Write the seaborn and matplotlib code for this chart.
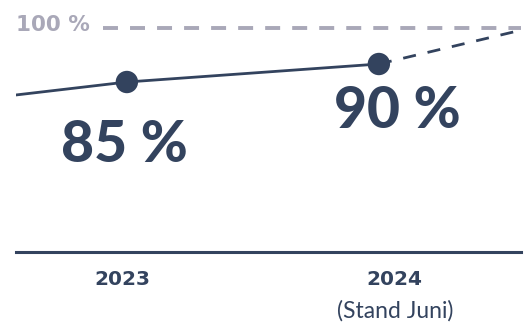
import matplotlib
matplotlib.use("Agg")
import matplotlib.pyplot as plt
import seaborn as sns

# data
years = [2023, 2024]
values = [85, 90]
year_labels = ["2023", "2024"]
year_notes = ["", "(Stand Juni)"]
value_labels = ["85 %", "90 %"]
lead_in = [2022.56, 81.4]      # where the solid line enters on the left
trend_end = [2024.564, 99.4]   # end of the dashed trend on the right
target = 100

navy = "#33435e"
grey = "#a9a8b8"

sns.set_style("white")
plt.rcParams["font.family"] = ["Lato", "DejaVu Sans"]

fig = plt.figure(figsize=(5.28, 3.23), dpi=100)
ax = fig.add_axes([16 / 528, 1 - 252 / 323, 505 / 528, 252 / 323])

# 100 % target line
ax.plot([2022.905, trend_end[0]], [target, target], color=grey, lw=2.8,
        dashes=(3.85, 3.1), solid_capstyle="butt")
ax.annotate("100 %", xy=(0, target), xycoords=("axes fraction", "data"),
            xytext=(0, -2.5), textcoords="offset points", ha="left", va="baseline",
            fontsize=15.5, fontweight="bold", family="DejaVu Sans", color=grey)

# solid line with the two measured points
sns.lineplot(x=[lead_in[0]] + years, y=[lead_in[1]] + values, ax=ax,
             color=navy, lw=2.0)
# dashed trend after the last point
sns.lineplot(x=[years[-1], trend_end[0]], y=[values[-1], trend_end[1]], ax=ax,
             color=navy, lw=2.0, dashes=False, linestyle=(0, (4.7, 4.3)))
sns.scatterplot(x=years, y=values, ax=ax, color=navy, s=260, edgecolor="none", zorder=5)

# big value labels
value_offsets = [(-1.5, -57.5), (13, -46)]
for x, y, lab, off in zip(years, values, value_labels, value_offsets):
    ax.annotate(lab, xy=(x, y), xytext=off, textcoords="offset points",
                ha="center", va="baseline", fontsize=41, fontweight="black",
                color=navy)

# year labels under the base line
year_dx = [-3.6, 11.5]
for x, lab, note, dx in zip(years, year_labels, year_notes, year_dx):
    ax.annotate(lab, xy=(x, 0), xycoords=("data", "axes fraction"),
                xytext=(dx, -23.5), textcoords="offset points", ha="center",
                va="baseline", fontsize=14.5, fontweight="bold",
                family="DejaVu Sans", color=navy)
    if note:
        ax.annotate(note, xy=(x, 0), xycoords=("data", "axes fraction"),
                    xytext=(dx, -47), textcoords="offset points", ha="center",
                    va="baseline", fontsize=16.5, color=navy)

ax.set_xlim(lead_in[0], trend_end[0])
ax.set_ylim(37.78, 107.78)
ax.set_xticks([])
ax.set_yticks([])
ax.set_xlabel("")
ax.set_ylabel("")
for side in ["top", "left", "right"]:
    ax.spines[side].set_visible(False)
ax.spines["bottom"].set_color(navy)
ax.spines["bottom"].set_linewidth(2.2)

fig.savefig("out.png", dpi=100)
